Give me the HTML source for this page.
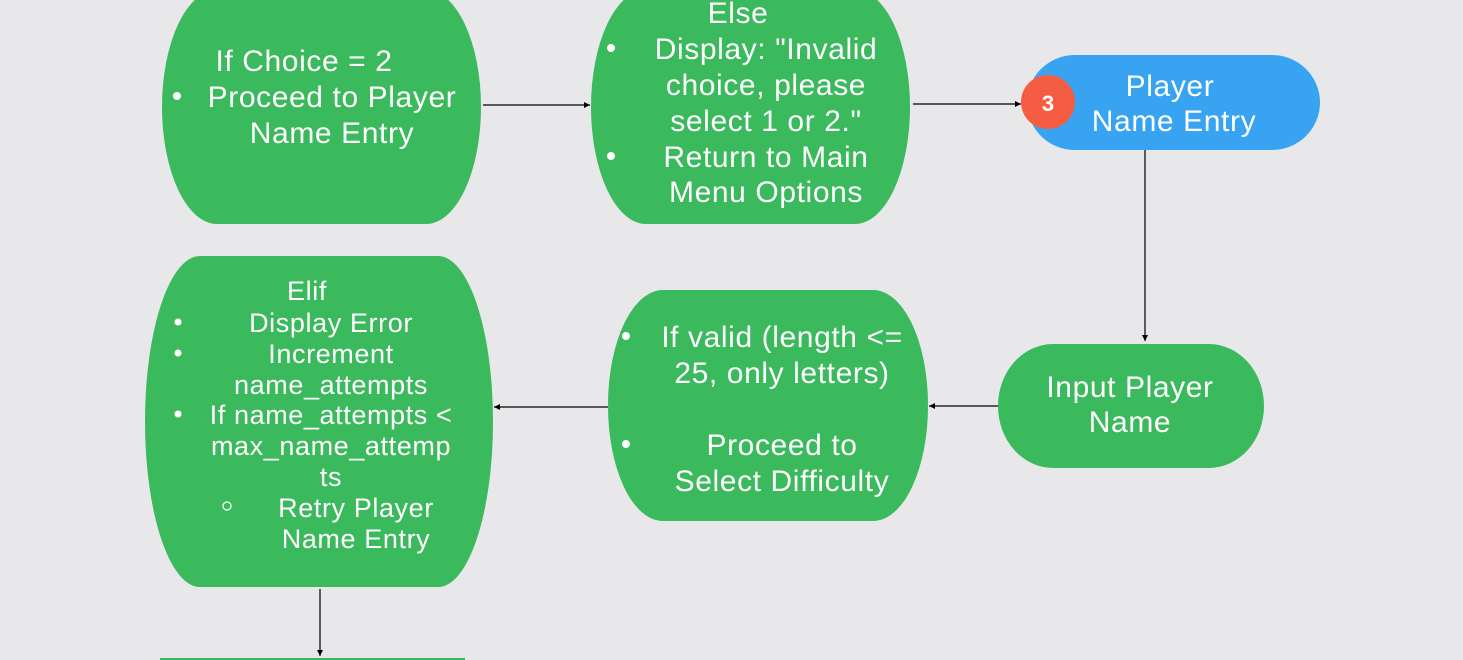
<!DOCTYPE html>
<html><head><meta charset="utf-8"><style>
html,body{margin:0;padding:0;background:#e8e8ea;width:1463px;height:660px;overflow:hidden;}
svg{display:block;}
text{font-family:"Liberation Sans",sans-serif;fill:#fff;}
</style></head><body>
<svg width="1463" height="660" viewBox="0 0 1463 660" xmlns="http://www.w3.org/2000/svg">
<defs><marker id="a" markerWidth="6" markerHeight="6" refX="5" refY="3" orient="auto"><path d="M0,0.5 L5,3 L0,5.5 z" fill="#000"/></marker></defs>
<rect width="1463" height="660" fill="#e8e8ea"/>
<rect x="162" y="-10" width="319" height="234" rx="55" ry="117" fill="#3bb95d"/>
<rect x="591" y="-10" width="319" height="234" rx="55" ry="117" fill="#3bb95d"/>
<rect x="1027" y="55" width="293" height="95" rx="48" ry="47.5" fill="#38a3f1"/>
<circle cx="1048" cy="102" r="27" fill="#f45d42"/>
<rect x="998" y="344" width="266" height="124" rx="55" ry="62" fill="#3bb95d"/>
<rect x="608" y="290" width="320" height="231" rx="55" ry="115" fill="#3bb95d"/>
<rect x="145" y="256" width="348" height="331" rx="55" ry="165" fill="#3bb95d"/>
<rect x="160" y="658" width="305" height="2" fill="#3bb95d"/>
<g stroke="#000" stroke-width="1.2" fill="none" marker-end="url(#a)">
<line x1="483" y1="105" x2="590" y2="105"/>
<line x1="913" y1="104" x2="1021" y2="104"/>
<line x1="1145" y1="150" x2="1145" y2="341"/>
<line x1="998" y1="406" x2="929" y2="406"/>
<line x1="608" y1="407" x2="494" y2="407"/>
<line x1="320" y1="589" x2="320" y2="656"/>
</g>
<g font-size="30" text-anchor="middle" letter-spacing="0.6">
<text x="304" y="71">If Choice = 2</text>
<text x="332" y="107">Proceed to Player</text>
<text x="332" y="143">Name Entry</text>
<text x="738" y="23">Else</text>
<text x="766" y="59">Display: "Invalid</text>
<text x="766" y="95">choice, please</text>
<text x="766" y="131">select 1 or 2."</text>
<text x="766" y="167">Return to Main</text>
<text x="766" y="202">Menu Options</text>
<text x="1170" y="96">Player</text>
<text x="1174" y="131">Name Entry</text>
<text x="1130" y="397">Input Player</text>
<text x="1130" y="432">Name</text>
<text x="782" y="347">If valid (length &lt;=</text>
<text x="782" y="383">25, only letters)</text>
<text x="782" y="455">Proceed to</text>
<text x="782" y="491">Select Difficulty</text>
</g>
<text x="1048" y="111" font-size="22" font-weight="bold" text-anchor="middle">3</text>
<g font-size="27" text-anchor="middle" letter-spacing="0.6">
<text x="307" y="300">Elif</text>
<text x="331" y="332">Display Error</text>
<text x="331" y="363">Increment</text>
<text x="331" y="394">name_attempts</text>
<text x="331" y="424">If name_attempts &lt;</text>
<text x="331" y="455">max_name_attemp</text>
<text x="331" y="486">ts</text>
<text x="356" y="517">Retry Player</text>
<text x="356" y="548">Name Entry</text>
</g>
<g fill="#fff">
<circle cx="177" cy="96" r="4"/>
<circle cx="611" cy="48" r="4"/>
<circle cx="611" cy="156" r="4"/>
<circle cx="626" cy="336" r="4"/>
<circle cx="626" cy="444" r="4"/>
<circle cx="178" cy="322" r="3.5"/>
<circle cx="178" cy="353" r="3.5"/>
<circle cx="178" cy="414" r="3.5"/>
</g>
<circle cx="227" cy="506" r="4" fill="none" stroke="#fff" stroke-width="1.3"/>
</svg>
</body></html>
